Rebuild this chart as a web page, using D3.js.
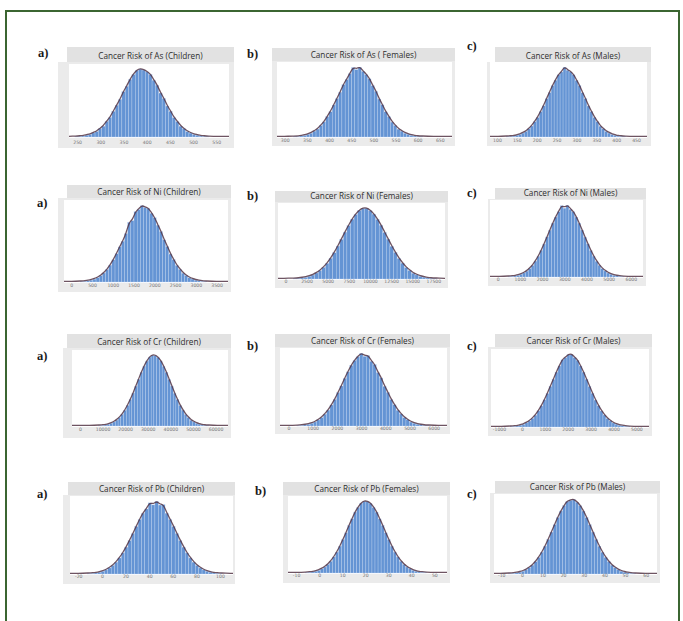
<!DOCTYPE html>
<html><head><meta charset="utf-8">
<script src="https://cdn.jsdelivr.net/npm/d3@7"></script>
<style>body{margin:0;background:#fff}svg{display:block}</style>
</head><body>
<svg id="c" width="683" height="621"></svg>
<script>
// ---- data ----
const titles = [
  "Cancer Risk of As (Children)", "Cancer Risk of As ( Females)", "Cancer Risk of As (Males)",
  "Cancer Risk of Ni (Children)", "Cancer Risk of Ni (Females)", "Cancer Risk of Ni (Males)",
  "Cancer Risk of Cr (Children)", "Cancer Risk of Cr (Females)", "Cancer Risk of Cr (Males)",
  "Cancer Risk of Pb (Children)", "Cancer Risk of Pb (Females)", "Cancer Risk of Pb (Males)"
];
const panelLetters = ["a)","b)","c)","a)","b)","c)","a)","b)","c)","a)","b)","c)"];
const tickValues = [
  [250,300,350,400,450,500,550],
  [300,350,400,450,500,550,600,650],
  [100,150,200,250,300,350,400,450],
  [0,500,1000,1500,2000,2500,3000,3500],
  [0,2500,5000,7500,10000,12500,15000,17500],
  [0,1000,2000,3000,4000,5000,6000],
  [0,10000,20000,30000,40000,50000,60000],
  [0,1000,2000,3000,4000,5000,6000],
  [-1000,0,1000,2000,3000,4000,5000],
  [-20,0,20,40,60,80,100],
  [-10,0,10,20,30,40,50],
  [-10,0,10,20,30,40,50,60]
];
const binStarts = [245.3, 319.5, 123.8, 216, 922, 460, 8361, 347, -518.6, -12.1, -6.1, -6.4];
const binWidths = [7.23, 7.3, 7.5, 76.2, 423.6, 130.9, 1218, 136.6, 130.9, 2.85, 1.32, 1.54];

const asChildren = [5,10,14,27,36,60,81,122,160,230,288,380,470,555,670,750,852,925,985,1004,990,962,925,838,765,650,570,458,380,285,228,160,122,80,58,36,27,14,10,5];
const asFemales  = [6,8,16,24,40,55,86,116,168,220,298,370,468,560,655,765,840,925,1015,985,1020,960,912,850,750,668,555,470,368,298,218,168,115,86,55,40,24,15,9,6];
const asMales    = [7,9,14,26,37,58,83,121,163,226,290,377,462,568,658,762,843,922,965,1035,990,965,922,840,762,655,568,460,377,290,226,160,121,83,58,37,26,14,9,6];
const niChildren = [6,9,15,25,38,57,84,119,165,223,293,374,465,540,640,790,812,930,960,1010,985,975,910,850,752,668,558,470,370,296,220,168,117,86,55,39,24,16,8,6];
const niFemales  = [5,9,16,24,39,56,85,118,166,222,294,372,467,562,664,757,848,915,972,1000,1002,968,920,845,762,660,565,463,376,291,225,163,121,82,58,37,26,14,9,6];
const niMales    = [6,10,15,24,38,58,83,120,164,224,292,375,464,564,660,760,845,920,1005,970,1010,955,920,845,760,662,562,466,373,294,222,166,118,85,56,39,24,16,9,5];
const crChildren = [6,9,15,25,38,57,84,119,165,223,293,374,465,563,662,759,846,918,975,1000,996,968,920,844,760,660,565,463,376,291,225,163,121,82,58,37,26,14,9,6];
const crFemales  = [5,9,16,24,39,56,85,118,166,222,294,372,467,560,665,757,848,916,968,1015,975,985,905,860,745,672,555,470,370,296,220,168,117,86,55,39,24,16,8,6];
const crMales    = [6,9,14,26,37,58,83,120,164,224,292,376,464,564,660,760,845,930,960,1000,1005,962,925,845,760,662,562,466,373,294,222,166,118,85,56,39,24,16,9,5];
const pbChildren = [6,9,15,25,38,57,84,119,165,223,293,374,465,563,662,759,846,905,990,962,1010,960,965,846,759,662,563,465,374,293,223,165,119,84,57,38,25,15,9,6];
const pbFemales  = [5,10,15,25,37,58,84,120,164,224,292,375,466,560,664,755,850,915,975,1000,995,972,915,850,755,664,560,466,375,292,224,164,120,84,58,37,25,15,10,5];
const pbMales    = [6,9,15,25,38,57,84,119,165,223,293,374,465,563,662,759,846,918,975,990,1000,965,918,846,759,662,563,465,374,293,223,165,119,84,57,38,25,15,9,6];
const series = [asChildren, asFemales, asMales, niChildren, niFemales, niMales,
                crChildren, crFemales, crMales, pbChildren, pbFemales, pbMales];

// ---- layout (pixels) ----
const layout = [
  {f:[58,234,47,148], tx0:67, ty1:62, p:[69,229,64,138], tick:145, l:[38,57]},
  {f:[272,455,48,146], tx0:272, ty1:61, p:[277,452,62,138], tick:143, l:[247,58]},
  {f:[487,651,47,146], tx0:495, ty1:62, p:[490,647,62,138], tick:143, l:[467,50]},
  {f:[58,231,185,292], tx0:67, ty1:198, p:[64,228,200,283], tick:288, l:[37,207]},
  {f:[275,448,191,288], tx0:275, ty1:202, p:[278,445,203,280], tick:284, l:[247,200]},
  {f:[488,646,188,286], tx0:495, ty1:199, p:[490,643,200,278], tick:282, l:[467,197]},
  {f:[63,231,334,438], tx0:67, ty1:348, p:[72,228,350,427], tick:432, l:[37,360]},
  {f:[275,450,334,434], tx0:275, ty1:347, p:[280,447,348,427], tick:431, l:[247,350]},
  {f:[488,652,334,436], tx0:495, ty1:347, p:[491,649,349,428], tick:432, l:[467,350]},
  {f:[63,235,482,584], tx0:68, ty1:495, p:[70,233,496,575], tick:579, l:[37,498]},
  {f:[283,450,482,583], tx0:283, ty1:495, p:[288,447,496,574], tick:578, l:[255,495]},
  {f:[490,660,481,583], tx0:495, ty1:493, p:[494,657,494,575], tick:578, l:[467,498]}
];

const svg = d3.select("#c");
svg.append("rect").attr("x",0).attr("y",0).attr("width",683).attr("height",621).attr("fill","#fff");
// page border
svg.append("path").attr("d","M6,640 L6,11 L679,11 L679,640")
  .attr("fill","none").attr("stroke","#3b6531").attr("stroke-width",2);

layout.forEach((L,i)=>{
  const g = svg.append("g");
  const [fx0,fx1,fy0,fy1] = L.f;
  const [px0,px1,py0,py1] = L.p;
  // panel frame
  g.append("rect").attr("x",fx0).attr("y",L.ty1).attr("width",fx1-fx0).attr("height",fy1-L.ty1).attr("fill","#ebebeb");
  g.append("rect").attr("x",L.tx0).attr("y",fy0).attr("width",fx1-L.tx0).attr("height",L.ty1-fy0).attr("fill","#e2e2e2");
  g.append("rect").attr("x",px0).attr("y",py0).attr("width",px1-px0).attr("height",py1-py0).attr("fill","#ffffff");
  // title
  g.append("text").attr("x",(L.tx0+fx1)/2).attr("y",L.ty1-3.5).attr("text-anchor","middle")
    .attr("font-family","'Open Sans', 'DejaVu Sans', sans-serif").attr("font-size",8.2).attr("fill","#2e2e2e")
    .text(titles[i]);
  // letter
  svg.append("text").attr("x",L.l[0]).attr("y",L.l[1]).attr("font-family","'Liberation Serif', 'DejaVu Serif', serif")
    .attr("font-weight","bold").attr("font-size",12.5).attr("fill","#1a1a1a").text(panelLetters[i]);

  const t = tickValues[i];
  const step = t[1]-t[0];
  const x = d3.scaleLinear().domain([t[0]-0.35*step, t[t.length-1]+0.55*step]).range([px0,px1]);
  const vals = series[i];
  const y = d3.scaleLinear().domain([0, d3.max(vals)*1.075]).range([py1-1, py0]);
  const bw = binWidths[i], b0 = binStarts[i];
  const bins = vals.map((v,k)=>({x0:b0+k*bw, x1:b0+(k+1)*bw, v}));

  const clip = "clip"+i;
  svg.append("clipPath").attr("id",clip).append("rect").attr("x",px0).attr("y",py0).attr("width",px1-px0).attr("height",py1-py0);
  const pg = g.append("g").attr("clip-path",`url(#${clip})`);

  pg.selectAll("rect.bar").data(bins).join("rect").attr("class","bar")
    .attr("x",d=>x(d.x0)).attr("width",d=>x(d.x1)-x(d.x0))
    .attr("y",d=>y(d.v)).attr("height",d=>y(0)-y(d.v))
    .attr("fill","#6494d4").attr("stroke","#c2d5ef").attr("stroke-width",0.35);

  // fitted curve drawn through bin tops
  const pts = [[x.domain()[0],0],[b0-3*bw,0]]
    .concat(bins.map(d=>[(d.x0+d.x1)/2, d.v]))
    .concat([[b0+(vals.length+3)*bw,0],[x.domain()[1],0]]);
  const line = d3.line().x(d=>x(d[0])).y(d=>y(d[1])-0.6).curve(d3.curveBasis);
  pg.append("path").datum(pts).attr("d",line).attr("fill","none")
    .attr("stroke","#553646").attr("stroke-width",1.3).attr("stroke-opacity",0.85);

  // x axis labels
  const ax = d3.axisBottom(x).tickValues(t).tickSize(0).tickPadding(0).tickFormat(d=>String(d));
  const axg = g.append("g").attr("transform",`translate(0,${L.tick-4})`).call(ax);
  axg.select(".domain").remove();
  axg.selectAll("text").attr("font-size",4.6).attr("fill","#777").attr("font-family","'DejaVu Sans', sans-serif");
});
</script>
</body></html>
